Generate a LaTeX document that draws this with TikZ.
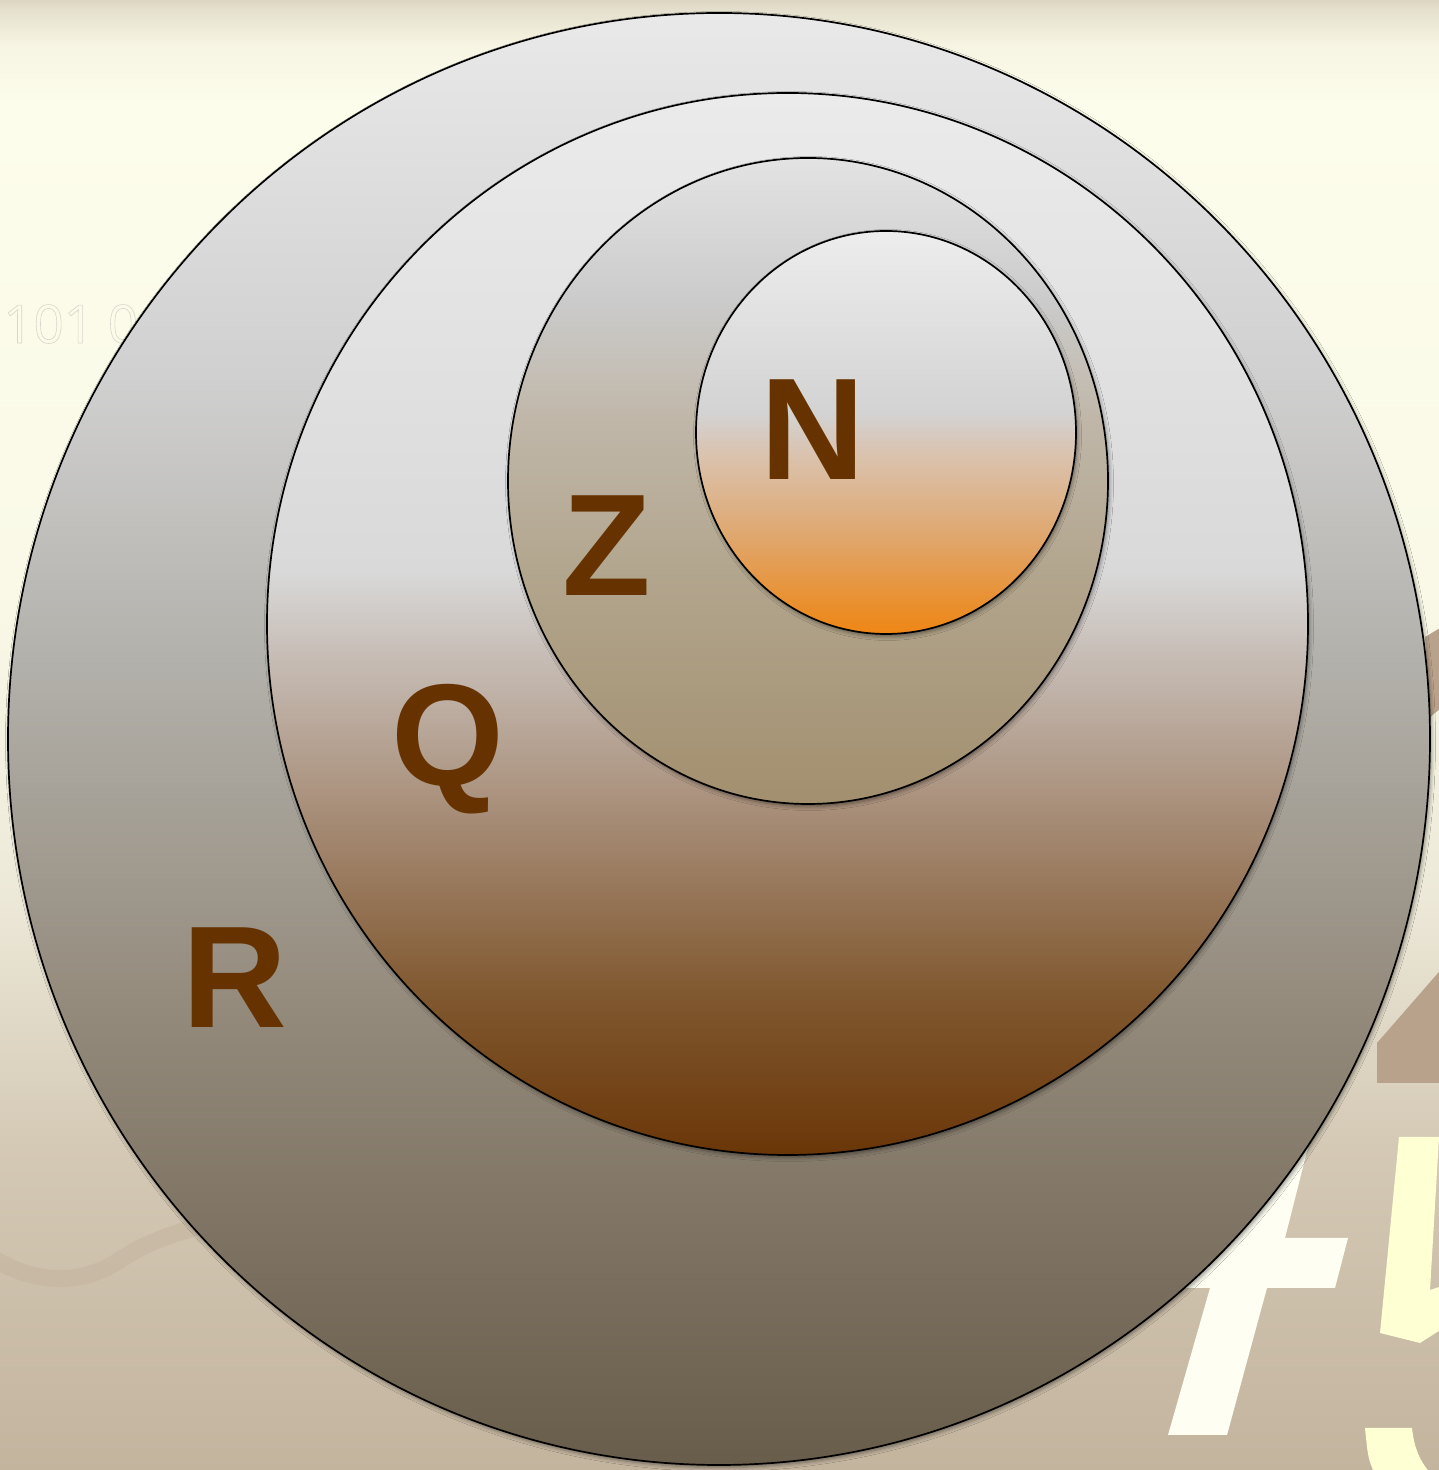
\documentclass[tikz,border=0pt]{standalone}
\usepackage{fontspec}
\setmainfont{Liberation Sans}
\newfontfamily\thinfont{Open Sans}
\usetikzlibrary{shapes.geometric,shadows.blur}

\definecolor{labbrown}{HTML}{663300}
% background
\definecolor{bgA}{HTML}{C3B49E}
\definecolor{bgB}{HTML}{D4C9B5}
\definecolor{bgC}{HTML}{EEEADA}
\definecolor{bgD}{HTML}{FAF9E7}
\definecolor{bgE}{HTML}{FDFDEB}
\definecolor{bgF}{HTML}{F6F4E2}
\definecolor{bgG}{HTML}{E6E1CF}
\definecolor{bgH}{HTML}{DDD6C3}
\pgfdeclareverticalshading{bgshade}{100bp}{color(0bp)=(bgA); color(25bp)=(bgA); color(36bp)=(bgB); color(45bp)=(bgC); color(55bp)=(bgD); color(71.5bp)=(bgE); color(73.5bp)=(bgF); color(74.6bp)=(bgG); color(75bp)=(bgH); color(100bp)=(bgH)}
% R
\definecolor{rA}{HTML}{685C4A}
\definecolor{rB}{HTML}{928879}
\definecolor{rC}{HTML}{B2B0AA}
\definecolor{rD}{HTML}{D0D0D0}
\definecolor{rE}{HTML}{E9E9E9}
\pgfdeclareverticalshading{Rshade}{100bp}{color(0bp)=(rA); color(25bp)=(rA); color(40bp)=(rB); color(52.5bp)=(rC); color(62.5bp)=(rD); color(75bp)=(rE); color(100bp)=(rE)}
% Q
\definecolor{qA}{HTML}{6A3608}
\definecolor{qB}{HTML}{80582F}
\definecolor{qC}{HTML}{9E8066}
\definecolor{qD}{HTML}{B8A698}
\definecolor{qE}{HTML}{C9C0BA}
\definecolor{qF}{HTML}{D9D9D9}
\definecolor{qG}{HTML}{EBEBEB}
\pgfdeclareverticalshading{Qshade}{100bp}{color(0bp)=(qA); color(25bp)=(qA); color(32.5bp)=(qB); color(39bp)=(qC); color(45bp)=(qD); color(49bp)=(qE); color(52.5bp)=(qF); color(75bp)=(qG); color(100bp)=(qG)}
% Z
\definecolor{zA}{HTML}{A28F6E}
\definecolor{zB}{HTML}{B2A58D}
\definecolor{zC}{HTML}{C0B7A9}
\definecolor{zD}{HTML}{CBCBCB}
\definecolor{zE}{HTML}{E3E3E3}
\pgfdeclareverticalshading{Zshade}{100bp}{color(0bp)=(zA); color(25bp)=(zA); color(42.5bp)=(zB); color(55bp)=(zC); color(64bp)=(zD); color(75bp)=(zE); color(100bp)=(zE)}
% N
\definecolor{nA}{HTML}{EF8614}
\definecolor{nB}{HTML}{E99030}
\definecolor{nC}{HTML}{DFA870}
\definecolor{nD}{HTML}{DAC3B0}
\definecolor{nE}{HTML}{D3D3D3}
\definecolor{nF}{HTML}{EDEDED}
\pgfdeclareverticalshading{Nshade}{100bp}{color(0bp)=(nA); color(25bp)=(nA); color(29bp)=(nB); color(37.5bp)=(nC); color(47.5bp)=(nD); color(52.5bp)=(nE); color(75bp)=(nF); color(100bp)=(nF)}

\definecolor{decobrown}{HTML}{B9A28C}
\definecolor{decowhite}{HTML}{FEFEF2}
\definecolor{decoyellow}{HTML}{FFFFD4}
\definecolor{wavecol}{HTML}{C6B7A2}
\definecolor{ghost}{HTML}{D6D6CC}

\tikzset{
  ring/.style={ellipse, draw=black, line width=1.7pt, inner sep=0pt,
    blur shadow={shadow xshift=1.5pt, shadow yshift=-2.5pt, shadow blur radius=4pt, shadow opacity=45}},
  setlabel/.style={font=\bfseries\fontsize{145}{145}\selectfont, text=labbrown, inner sep=0pt, anchor=base},
}

\begin{document}
\begin{tikzpicture}[x=1pt,y=1pt]
\useasboundingbox (0,0) rectangle (1439,1470);
\fill[shading=bgshade] (0,0) rectangle (1439,1470);

% background decorations
\fill[decobrown] (1425,833) -- (1445,845) -- (1445,765) -- (1430,753) -- cycle;
\fill[decobrown] (1377,427) -- (1445,505) -- (1445,387) -- (1377,387) -- cycle;
\fill[decowhite] (1168,35) -- (1210,182) -- (1150,182) -- (1150,232) -- (1220,232)
  -- (1250,370) -- (1320,370) -- (1285,232) -- (1348,232) -- (1335,182)
  -- (1267,182) -- (1227,35) -- cycle;
\fill[decoyellow] (1399,333) -- (1445,333) -- (1439,333) -- (1430,180) -- (1445,185)
  -- (1445,143) -- (1420,127) -- (1380,137) -- cycle;
\fill[decoyellow] (1365,42) -- (1412,42) .. controls (1414,22) and (1420,8) .. (1432,-5)
  -- (1375,-5) .. controls (1368,12) .. (1365,42) -- cycle;
\draw[wavecol, line width=17pt, line cap=round, opacity=0.7]
  (-10,214) .. controls (25,190) and (75,180) .. (120,210)
  .. controls (150,230) and (185,242) .. (240,252);
\node[anchor=base west, inner sep=0pt, font=\thinfont\fontsize{53}{53}\selectfont, text=ghost] (ghosttext) at (3,1127)
  {\special{pdf:literal direct 1 Tr 0.6 w}101 0\special{pdf:literal direct 0 Tr}};

% sets
\node[ring, shading=Rshade, minimum width=1422pt, minimum height=1452pt] (R) at (719,731) {};
\node[ring, shading=Qshade, minimum width=1041pt, minimum height=1062pt] (Q) at (787.5,846) {};
\node[ring, shading=Zshade, minimum width=600pt, minimum height=646pt] (Z) at (808,989) {};
\node[ring, shading=Nshade, minimum width=380pt, minimum height=403pt] (N) at (886,1037.5) {};

% labels
\node[setlabel] (Nlab) at (813,990) {N};
\node[setlabel] (Zlab) at (607,874) {Z};
\node[setlabel] (Qlab) at (448,684) {Q};
\node[setlabel] (Rlab) at (235,442) {R};
\end{tikzpicture}
\end{document}
